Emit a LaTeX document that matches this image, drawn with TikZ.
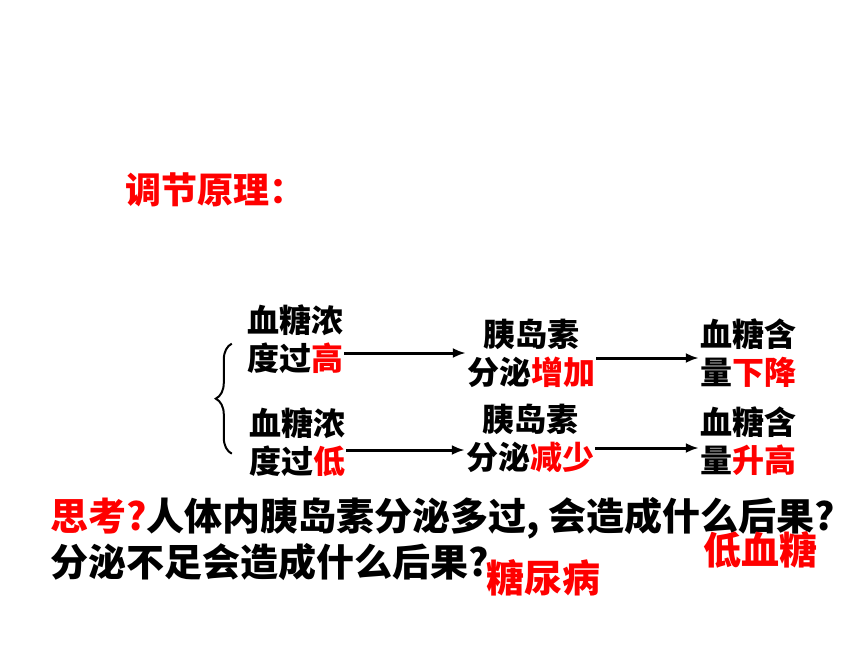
\documentclass[tikz,border=0pt]{standalone}
\usepackage{fontspec}
\setmainfont{Noto Sans CJK SC}
\usetikzlibrary{decorations.pathreplacing,arrows.meta}

\tikzset{
  stepnode/.style={font=\bfseries\fontsize{32}{38}\selectfont, align=center, inner sep=1pt},
  asknode/.style={font=\bfseries\fontsize{38}{42}\selectfont, inner sep=0pt},
  flow/.style={-{Latex[length=13pt,width=10pt]}, line width=3pt}
}

\begin{document}
\begin{tikzpicture}[x=1pt,y=-1pt]
        \useasboundingbox (0,0) rectangle (860,645);

        % title
        \node[stepnode, font=\bfseries\fontsize{36}{40}\selectfont, text=red, anchor=west] (title) at (124,190) {调节原理：};

        % top row
        \node[stepnode] (hiA) at (295,339) {血糖浓\\度过\textcolor{red}{高}};
        \node[stepnode] (hiB) at (531,353) {胰岛素\\分泌\textcolor{red}{增加}};
        \node[stepnode] (hiC) at (748,353) {血糖含\\量\textcolor{red}{下降}};

        % bottom row
        \node[stepnode] (loA) at (297,442) {血糖浓\\度过\textcolor{red}{低}};
        \node[stepnode] (loB) at (530,438) {胰岛素\\分泌\textcolor{red}{减少}};
        \node[stepnode] (loC) at (748,441) {血糖含\\量\textcolor{red}{升高}};

        % brace
        \coordinate (braceTop) at ([xshift=-14pt,yshift=31pt]hiA.south west);
        \coordinate (braceBot) at ([xshift=-16pt,yshift=24pt]loA.south west);
        \draw[line width=2pt, decorate, decoration={brace, amplitude=16pt, mirror}] (braceTop) -- (braceBot);

        % arrows
        \draw[flow] ([yshift=-14pt]hiA.east) -- ([yshift=-0pt]hiB.west);
        \draw[flow] ([yshift=-5pt]hiB.east) -- ([yshift=-5pt]hiC.west);
        \draw[flow] ([yshift=-8pt]loA.east) -- ([yshift=-12pt]loB.west);
        \draw[flow] ([yshift=-10pt]loB.east) -- ([yshift=-7pt]loC.west);

        % question and answers
        \node[asknode, anchor=west] (ask1) at (50,518) {\textcolor{red}{思考?}人体内胰岛素分泌多过, 会造成什么后果?};
        \node[asknode, anchor=west] (ask2) at (50,562) {分泌不足会造成什么后果?};
        \node[asknode, text=red] (ansLow) at (760,550) {低血糖};
        \node[asknode, text=red] (ansHigh) at (543,578) {糖尿病};
\end{tikzpicture}
\end{document}
